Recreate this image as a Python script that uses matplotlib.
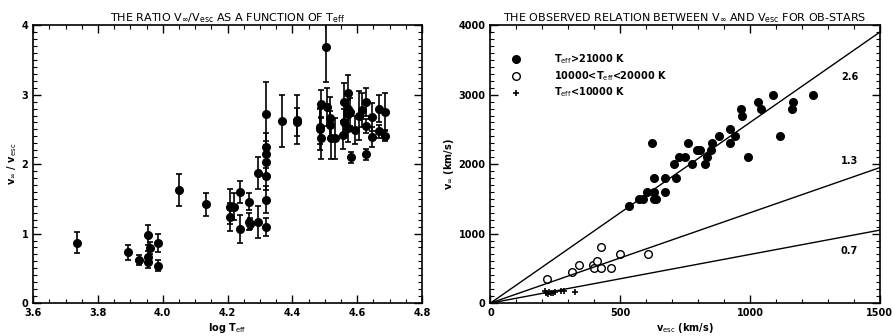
import numpy as np
import matplotlib
matplotlib.use('Agg')
import matplotlib.pyplot as plt
from matplotlib.ticker import MultipleLocator

# left panel: log Teff vs vinf/vesc
logt = [3.735, 3.894, 3.927, 3.956, 3.956, 3.956, 3.961, 3.985, 3.985, 4.049,
        4.133, 4.208, 4.208, 4.221, 4.239, 4.239, 4.265, 4.265, 4.27, 4.294,
        4.294, 4.318, 4.318, 4.318, 4.318, 4.318, 4.318, 4.318, 4.368, 4.414,
        4.414, 4.503, 4.486, 4.484, 4.489, 4.489, 4.506, 4.517, 4.517, 4.52,
        4.532, 4.558, 4.556, 4.558, 4.571, 4.571, 4.571, 4.578, 4.571, 4.581,
        4.594, 4.607, 4.614, 4.627, 4.627, 4.627, 4.647, 4.647, 4.666, 4.666,
        4.686, 4.686]
ratio = [0.87, 0.73, 0.62, 0.98, 0.67, 0.59, 0.79, 0.86, 0.54, 1.63,
         1.42, 1.39, 1.24, 1.39, 1.60, 1.07, 1.46, 1.17, 1.14, 1.87,
         1.17, 2.03, 1.83, 1.49, 1.10, 2.72, 2.25, 2.14, 2.62, 2.64,
         2.61, 3.68, 2.51, 2.54, 2.86, 2.38, 2.82, 2.66, 2.57, 2.37,
         2.37, 2.90, 2.42, 2.60, 3.02, 2.79, 2.72, 2.75, 2.52, 2.10,
         2.49, 2.70, 2.78, 2.90, 2.55, 2.14, 2.68, 2.39, 2.80, 2.47,
         2.75, 2.41]
ratio_err = [0.15, 0.11, 0.07, 0.15, 0.08, 0.08, 0.09, 0.13, 0.08, 0.23,
             0.16, 0.25, 0.2, 0.2, 0.16, 0.2, 0.12, 0.12, 0.08, 0.23,
             0.23, 0.25, 0.2, 0.2, 0.13, 0.46, 0.2, 0.2, 0.37, 0.35,
             0.2, 0.5, 0.3, 0.25, 0.2, 0.3, 0.27, 0.3, 0.2, 0.3,
             0.3, 0.27, 0.2, 0.2, 0.27, 0.25, 0.2, 0.2, 0.2, 0.08,
             0.2, 0.35, 0.25, 0.2, 0.1, 0.08, 0.2, 0.15, 0.2, 0.1,
             0.28, 0.08]

# right panel: vesc vs vinf
hot_vesc = [533, 572, 587, 602, 629, 632, 636, 629, 674, 674, 716, 709, 725, 750,
            763, 623, 777, 795, 809, 834, 827, 850, 852, 882, 923, 923, 942, 994,
            965, 969, 1029, 1042, 1087, 1114, 1167, 1162, 1241]
hot_vinf = [1400, 1500, 1500, 1600, 1600, 1500, 1500, 1800, 1800, 1600, 1800, 2000,
            2100, 2100, 2300, 2300, 2000, 2200, 2200, 2100, 2000, 2200, 2300, 2400,
            2500, 2300, 2400, 2100, 2800, 2700, 2900, 2800, 3000, 2400, 2900, 2800,
            3000]
mid_vesc = [216, 314, 341, 395, 397, 412, 427, 427, 465, 501, 608]
mid_vinf = [350, 450, 550, 550, 500, 600, 800, 500, 500, 700, 700]
cool_vesc = [210, 215, 220, 225, 232, 240, 250, 272, 285, 324]
cool_vinf = [170, 150, 130, 160, 140, 150, 160, 170, 170, 160]

slopes = [2.6, 1.3, 0.7]
slope_labels = ['2.6', '1.3', '0.7']
slope_label_y = [3250, 2040, 745]

fig = plt.figure(figsize=(8.95, 3.36), dpi=100)
ax1 = fig.add_axes([0.037, 0.098, 0.4345, 0.827])
ax2 = fig.add_axes([0.548, 0.098, 0.435, 0.827])

fs = 7
for ax in (ax1, ax2):
    ax.tick_params(which='both', direction='in', top=True, right=True, labelsize=fs)
    ax.tick_params(which='major', length=6, width=1)
    ax.tick_params(which='minor', length=3, width=0.8)
    for sp in ax.spines.values():
        sp.set_linewidth(1.2)
    for lab in ax.get_xticklabels() + ax.get_yticklabels():
        lab.set_fontweight('bold')

ax1.errorbar(logt, ratio, yerr=ratio_err, fmt='o', color='black', ms=5.5,
             elinewidth=1.2, capsize=2, capthick=1.2)
ax1.set_xlim(3.6, 4.8)
ax1.set_ylim(0, 4)
ax1.xaxis.set_major_locator(MultipleLocator(0.2))
ax1.xaxis.set_minor_locator(MultipleLocator(0.05))
ax1.yaxis.set_major_locator(MultipleLocator(1))
ax1.yaxis.set_minor_locator(MultipleLocator(0.1))
ax1.set_xticks(np.arange(3.6, 4.81, 0.2))
ax1.set_xticklabels(['%.1f' % v for v in np.arange(3.6, 4.81, 0.2)], fontweight='bold', fontsize=fs)
ax1.set_yticks([0, 1, 2, 3, 4])
ax1.set_yticklabels(['0', '1', '2', '3', '4'], fontweight='bold', fontsize=fs)
ax1.set_title(r'THE RATIO V$_\infty$/V$_{\rm esc}$ AS A FUNCTION OF T$_{\rm eff}$',
              fontsize=8, pad=3)
ax1.set_xlabel(r'log T$_{\rm eff}$', fontsize=7, fontweight='bold', labelpad=2)
ax1.set_ylabel(r'v$_\infty$ / v$_{\rm esc}$', fontsize=7, fontweight='bold', labelpad=2)

ax2.plot(hot_vesc, hot_vinf, 'o', color='black', ms=5.5)
ax2.plot(mid_vesc, mid_vinf, 'o', mfc='white', mec='black', ms=5.5, mew=1)
ax2.plot(cool_vesc, cool_vinf, '+', color='black', ms=5, mew=1.2)
xx = np.array([0, 1500])
for s, lab, ly in zip(slopes, slope_labels, slope_label_y):
    ax2.plot(xx, s * xx, color='black', lw=1)
    ax2.text(1383, ly, lab, fontsize=7, fontweight='bold', ha='center', va='center')

ax2.plot([97], [3510], 'o', color='black', ms=5.5)
ax2.plot([97], [3270], 'o', mfc='white', mec='black', ms=5.5, mew=1)
ax2.plot([97], [3030], '+', color='black', ms=5, mew=1.2)
ax2.text(245, 3510, r'T$_{\rm eff}$>21000 K', fontsize=7, fontweight='bold', va='center')
ax2.text(245, 3270, r'10000<T$_{\rm eff}$<20000 K', fontsize=7, fontweight='bold', va='center')
ax2.text(245, 3030, r'T$_{\rm eff}$<10000 K', fontsize=7, fontweight='bold', va='center')

ax2.set_xlim(0, 1500)
ax2.set_ylim(0, 4000)
ax2.set_xticks([0, 500, 1000, 1500])
ax2.set_xticklabels(['0', '500', '1000', '1500'], fontweight='bold', fontsize=fs)
ax2.set_yticks([0, 1000, 2000, 3000, 4000])
ax2.set_yticklabels(['0', '1000', '2000', '3000', '4000'], fontweight='bold', fontsize=fs)
ax2.xaxis.set_minor_locator(MultipleLocator(100))
ax2.yaxis.set_minor_locator(MultipleLocator(100))
ax2.set_title(r'THE OBSERVED RELATION BETWEEN V$_\infty$ AND V$_{\rm esc}$ FOR OB-STARS',
              fontsize=8, pad=3)
ax2.set_xlabel(r'v$_{\rm esc}$ (km/s)', fontsize=7, fontweight='bold', labelpad=2)
ax2.set_ylabel(r'v$_\infty$ (km/s)', fontsize=7, fontweight='bold', labelpad=2)

fig.savefig('out.png', dpi=100)
